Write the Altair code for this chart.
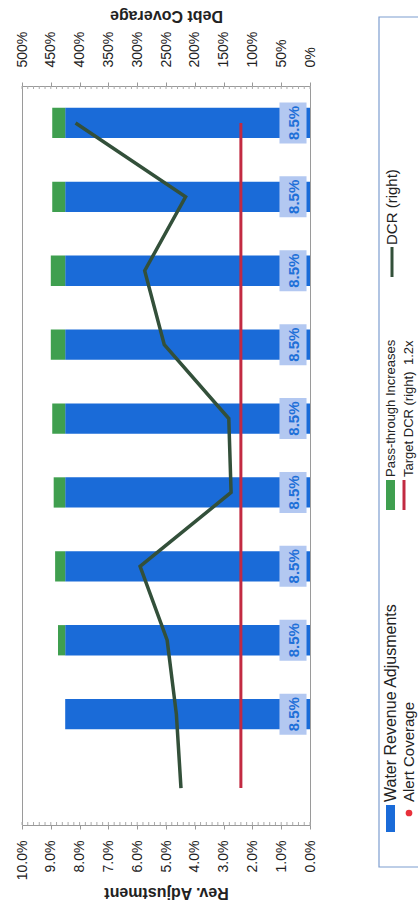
import altair as alt
import pandas as pd

# ---- data ----
FY = ["FY 2017", "FY 2018", "FY 2019", "FY 2020", "FY 2021",
      "FY 2022", "FY 2023", "FY 2024", "FY 2025", "FY 2026"]
WATER_ADJ = [None, 0.085, 0.085, 0.085, 0.085, 0.085, 0.085, 0.085, 0.085, 0.085]
PASS_THROUGH = [None, 0.0, 0.0025, 0.0035, 0.004, 0.0045, 0.005, 0.005, 0.0045, 0.0045]
DCR = [2.24, 2.32, 2.48, 2.95, 1.37, 1.41, 2.53, 2.87, 2.16, 4.07]
TARGET_DCR = [1.2, 1.2, 1.2, 1.2, 1.2, 1.2, 1.2, 1.2, 1.2, 1.2]
SERIES = ["Water Revenue Adjusments", "Pass-through Increases"]
LINE_SERIES = ["DCR (right)", "Target DCR (right)", "Alert Coverage"]
TARGET_NOTE = "1.2x"
REV_TICKS = [i / 100 for i in range(11)]
DCR_TICKS = [i / 2 for i in range(11)]
REV_MINOR = [i / 500 for i in range(51)]
DCR_MINOR = [i / 10 for i in range(51)]

BLUE = "#1a6bd8"
GREEN = "#3f9f4f"
DARK = "#33503a"
RED = "#c22a42"
FONT = "Liberation Sans"
W, H = 288, 739

# ---- tables ----
bar_rows = []
for fy, w, p in zip(FY, WATER_ADJ, PASS_THROUGH):
    if w is None:
        continue
    bar_rows.append({"fy": fy, "series": SERIES[0], "value": w, "ord": 0})
    bar_rows.append({"fy": fy, "series": SERIES[1], "value": p, "ord": 1})
bars_df = pd.DataFrame(bar_rows)
water_df = bars_df[bars_df["ord"] == 0].assign(zero=0.0)

main_df = pd.DataFrame({"fy": FY, "dcr": DCR, "target": TARGET_DCR, "idx": list(range(len(FY)))})
one = pd.DataFrame({"k": [0]})

# ---- scales / axes ----
def rev_scale():
    return alt.Scale(domain=[0, 0.1], reverse=True, nice=False, zero=True)

def dcr_scale():
    return alt.Scale(domain=[0, 5], reverse=True, nice=False, zero=True)

fy_scale = alt.Scale(domain=FY[::-1], paddingInner=0.59, paddingOuter=0.295)

fy_axis = alt.Axis(orient="right", title=None, labelAngle=270, labelAlign="center",
                   labelBaseline="top", labelPadding=15, ticks=False, domain=False,
                   labelFontSize=14, labelColor="#222", grid=False)
rev_axis = alt.Axis(orient="bottom", values=REV_TICKS, format=".1%", labelAngle=270,
                    labelAlign="right", labelBaseline="middle", labelPadding=11,
                    tickSize=4, tickColor="#999", domain=False, grid=False,
                    labelFontSize=14, labelColor="#222",
                    title="Rev. Adjustment", titleAngle=180, titleBaseline="middle",
                    titleY=67, titleFontSize=16, titleFontWeight="bold", titleColor="#222")
dcr_axis = alt.Axis(orient="top", values=DCR_TICKS, format=".0%", labelAngle=270,
                    labelAlign="left", labelBaseline="middle", labelPadding=15,
                    tickSize=4, tickColor="#999", domain=False, grid=False,
                    labelFontSize=14, labelColor="#222",
                    title="Debt Coverage", titleAngle=180, titleBaseline="middle",
                    titleY=-71, titleFontSize=16, titleFontWeight="bold", titleColor="#222")

y_enc = alt.Y("fy:N", scale=fy_scale, axis=fy_axis)
y_plain = alt.Y("fy:N", scale=fy_scale, axis=None)

# ---- revenue adjustment bars (bottom axis) ----
bars = alt.Chart(bars_df).mark_bar().encode(
    x=alt.X("value:Q", scale=rev_scale(), axis=rev_axis, stack="zero"),
    y=y_enc,
    color=alt.Color("series:N", scale=alt.Scale(domain=SERIES, range=[BLUE, GREEN]), legend=None),
    order=alt.Order("ord:Q"),
)
label_box = alt.Chart(water_df).mark_point(
    shape="M-0.66,-1L0.66,-1L0.66,1L-0.66,1Z", filled=True, opacity=1,
    color="#b3c8f1", size=1681, xOffset=-17,
).encode(x=alt.X("zero:Q", scale=rev_scale(), axis=None), y=y_plain)
labels = alt.Chart(water_df).mark_text(
    angle=270, align="center", baseline="middle", fontSize=15, fontWeight="bold",
    color="#1f70d8", font=FONT, xOffset=-16,
).encode(
    x=alt.X("zero:Q", scale=rev_scale(), axis=None), y=y_plain,
    text=alt.Text("value:Q", format=".1%"),
)
rev_minor = alt.Chart(pd.DataFrame({"v": REV_MINOR})).mark_rule(color="#aaa", strokeWidth=1).encode(
    x=alt.X("v:Q", scale=rev_scale(), axis=None), y=alt.value(H), y2=alt.value(H - 3))

# ---- debt coverage lines (top axis) ----
target = alt.Chart(main_df).mark_line(color=RED, strokeWidth=3).encode(
    x=alt.X("target:Q", scale=dcr_scale(), axis=None), y=y_plain, order=alt.Order("idx:Q"))
dcr_line = alt.Chart(main_df).mark_line(color=DARK, strokeWidth=3.5).encode(
    x=alt.X("dcr:Q", scale=dcr_scale(), axis=dcr_axis), y=y_plain, order=alt.Order("idx:Q"))
dcr_minor = alt.Chart(pd.DataFrame({"v": DCR_MINOR})).mark_rule(color="#aaa", strokeWidth=1).encode(
    x=alt.X("v:Q", scale=dcr_scale(), axis=None), y=alt.value(0), y2=alt.value(3))

# ---- legend (rotated with the chart) ----
def legend_text(txt, x, y, size=15):
    return alt.Chart(one).mark_text(angle=270, align="left", baseline="middle",
                                    fontSize=size, color="#222", font=FONT).encode(
        x=alt.value(x), y=alt.value(y), text=alt.value(txt))

legend_box = alt.Chart(one).mark_rect(fillOpacity=0, stroke="#7d9dd0", strokeWidth=1.2).encode(
    x=alt.value(357), x2=alt.value(402), y=alt.value(-69), y2=alt.value(781))
sym_blue = alt.Chart(one).mark_rect(color=BLUE).encode(
    x=alt.value(364), x2=alt.value(373), y=alt.value(719), y2=alt.value(746))
sym_green = alt.Chart(one).mark_rect(color=GREEN).encode(
    x=alt.value(364), x2=alt.value(373), y=alt.value(394), y2=alt.value(424))
sym_alert = alt.Chart(one).mark_circle(color="#e8303a", size=45, opacity=1).encode(
    x=alt.value(387), y=alt.value(727))
sym_target = alt.Chart(one).mark_rule(color=RED, strokeWidth=3).encode(
    x=alt.value(382), y=alt.value(394), y2=alt.value(424))
sym_dcr = alt.Chart(one).mark_rule(color=DARK, strokeWidth=3).encode(
    x=alt.value(370), y=alt.value(161), y2=alt.value(191))

layers = [
    bars, label_box, labels, rev_minor,
    target, dcr_line, dcr_minor,
    legend_box, sym_blue, sym_green, sym_alert, sym_target, sym_dcr,
    legend_text(SERIES[0], 369, 716, 16),
    legend_text(LINE_SERIES[2], 387, 716, 15),
    legend_text(SERIES[1], 369, 391, 13),
    legend_text(LINE_SERIES[1], 387, 391, 13),
    legend_text(TARGET_NOTE, 387, 279, 13),
    legend_text(LINE_SERIES[0], 370, 159, 15),
]

chart = alt.layer(*layers).resolve_scale(x="independent").properties(
    width=W, height=H,
    autosize=alt.AutoSizeParams(type="none"),
    padding={"left": 22, "top": 86, "right": 108, "bottom": 86},
).configure(background="white", font=FONT).configure_view(stroke="#9a9a9a", strokeWidth=1)

chart.save("out.html", embed_options={"renderer": "svg", "actions": False})
